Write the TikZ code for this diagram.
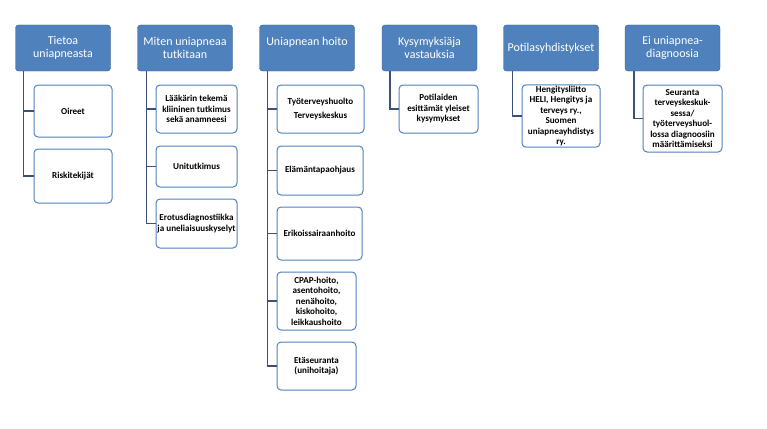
\documentclass[tikz,border=0pt]{standalone}
\usepackage{fontspec}
\setmainfont{Carlito}
\usepackage{xcolor}
\usepackage{tikz}
\usetikzlibrary{positioning}

\definecolor{hdrblue}{RGB}{79,129,189}
\definecolor{hdrline}{RGB}{56,93,138}
\definecolor{conncol}{RGB}{60,80,120}

\begin{document}
\begin{tikzpicture}[
    x=1pt, y=-1pt,
    hdrbox/.style={draw=hdrline, fill=hdrblue, rounded corners=3pt, text=white, align=center, minimum width=95pt, minimum height=46pt, font=\fontsize{12}{13}\selectfont},
    itembox/.style={draw=hdrblue, line width=1pt, fill=white, rounded corners=4pt, align=center, inner sep=1pt, font=\bfseries\fontsize{9.1}{10.5}\selectfont},
    conn/.style={draw=conncol, line width=1.6pt}
]
    \useasboundingbox (0,0) rectangle (767,428);

    % headers
    \node (tietoa) [hdrbox] at (63,48) {Tietoa\\uniapneasta};
    \node (tutkitaan) [hdrbox] at (185,48) {Miten uniapneaa\\tutkitaan};
    \node (hoito) [hdrbox] at (307,48) {Uniapnean hoito\\\phantom{x}};
    \node (kysymys) [hdrbox] at (429.5,48) {Kysymyksiäja\\vastauksia};
    \node (potilas) [hdrbox] at (551,48) {Potilasyhdistykset};
    \node (eiuni) [hdrbox] at (672.5,48) {Ei uniapnea-\\diagnoosia};

    % items
    \node (oireet) [itembox, minimum width=78pt, minimum height=52pt] at (73,111) {Oireet};
    \node (riski) [itembox, minimum width=78pt, minimum height=54pt] at (73,176) {Riskitekijät};

    \node (laakari) [itembox, minimum width=81pt, minimum height=48pt] at (196.5,109) {Lääkärin tekemä\\kliininen tutkimus\\sekä anamneesi};
    \node (unitut) [itembox, minimum width=81pt, minimum height=41pt] at (196.5,166.5) {Unitutkimus};
    \node (erotus) [itembox, minimum width=81pt, minimum height=49pt] at (196.5,223.5) {Erotusdiagnostiikka\\ja uneliaisuuskyselyt};

    \node (tyoterv) [itembox, minimum width=87pt, minimum height=48pt] at (320.5,109) {Työterveyshuolto\\[4pt]Terveyskeskus};
    \node (elamant) [itembox, minimum width=86pt, minimum height=49pt] at (320,170.5) {Elämäntapaohjaus};
    \node (erikois) [itembox, minimum width=85pt, minimum height=53pt] at (319.5,233.5) {Erikoissairaanhoito};
    \node (cpap) [itembox, minimum width=79pt, minimum height=58pt] at (316.5,301) {CPAP-hoito,\\asentohoito,\\nenähoito,\\kiskohoito,\\leikkaushoito};
    \node (etaseur) [itembox, minimum width=79pt, minimum height=48pt] at (316.5,366) {Etäseuranta\\(unihoitaja)};

    \node (yleiset) [itembox, minimum width=79pt, minimum height=48pt] at (438.5,109) {Potilaiden\\esittämät yleiset\\kysymykset};

    \node (heli) [itembox, minimum width=78pt, minimum height=62pt] at (561,116) {Hengitysliitto\\HELI, Hengitys ja\\terveys ry.,\\Suomen\\uniapneayhdistys\\ry.};

    \node (seuranta) [itembox, minimum width=79pt, minimum height=67pt] at (682.5,118.5) {Seuranta\\terveyskeskuk-\\sessa/\\työterveyshuol-\\lossa diagnoosiin\\määrittämiseksi};

    % connectors
    \draw [conn] ([xshift=8pt]tietoa.south west) |- (oireet.west);
    \draw [conn] ([xshift=8pt]tietoa.south west) |- (riski.west);
    \draw [conn] ([xshift=9pt]tutkitaan.south west) |- (laakari.west);
    \draw [conn] ([xshift=9pt]tutkitaan.south west) |- (unitut.west);
    \draw [conn] ([xshift=9pt]tutkitaan.south west) |- (erotus.west);
    \draw [conn] ([xshift=8pt]hoito.south west) |- (tyoterv.west);
    \draw [conn] ([xshift=8pt]hoito.south west) |- (elamant.west);
    \draw [conn] ([xshift=8pt]hoito.south west) |- (erikois.west);
    \draw [conn] ([xshift=8pt]hoito.south west) |- (cpap.west);
    \draw [conn] ([xshift=8pt]hoito.south west) |- (etaseur.west);
    \draw [conn] ([xshift=8pt]kysymys.south west) |- (yleiset.west);
    \draw [conn] ([xshift=9pt]potilas.south west) |- (heli.west);
    \draw [conn] ([xshift=9pt]eiuni.south west) |- (seuranta.west);
\end{tikzpicture}
\end{document}
